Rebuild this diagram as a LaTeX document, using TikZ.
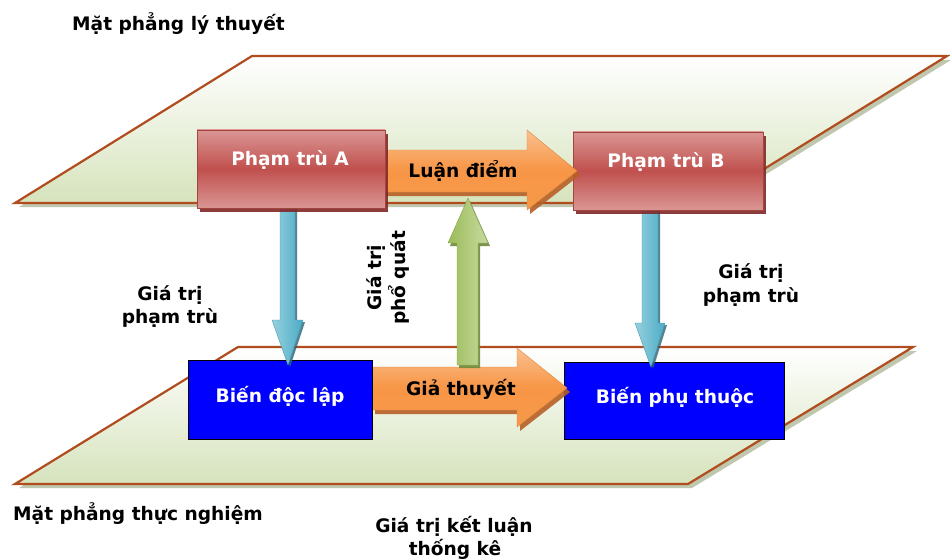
\documentclass[tikz,border=0pt]{standalone}
\usepackage{fontspec}
\setmainfont{DejaVu Sans}
\usetikzlibrary{shadows,calc}
\definecolor{planeline}{RGB}{176,76,30}
\definecolor{planefill}{RGB}{214,227,188}
\definecolor{planeshadow}{RGB}{165,178,140}
\definecolor{redmid}{RGB}{192,80,77}
\definecolor{redlight}{RGB}{218,150,148}
\definecolor{redshadow}{RGB}{128,40,38}
\definecolor{orangemid}{RGB}{247,150,70}
\definecolor{orangelight}{RGB}{250,192,144}
\definecolor{orangeshadow}{RGB}{182,96,38}
\definecolor{greenmid}{RGB}{155,187,89}
\definecolor{greenlight}{RGB}{200,218,160}
\definecolor{greenshadow}{RGB}{110,138,55}
\definecolor{tealmid}{RGB}{75,172,198}
\definecolor{teallight}{RGB}{150,208,222}
\definecolor{tealshadow}{RGB}{45,100,118}
\begin{document}
\begin{tikzpicture}[x=1pt,y=-1pt,
  font=\fontsize{18.6}{22}\selectfont\bfseries,
  plane/.style={draw=planeline, line width=2.2pt, line join=miter,
    top color=white, bottom color=planefill,
    drop shadow={shadow xshift=4pt, shadow yshift=-4pt, fill=planeshadow, opacity=0.7}},
  redbox/.style={draw=redmid!85!black, line width=0.6pt, inner sep=0pt,
    top color=redlight, bottom color=redlight, middle color=redmid,
    drop shadow={shadow xshift=3pt, shadow yshift=-4pt, fill=redshadow, opacity=0.9}},
  bluebox/.style={draw=black, line width=1pt, fill={rgb,255:red,0;green,0;blue,255}, inner sep=0pt},
  orangearrow/.style={draw=orangemid!90!black, line width=0.4pt,
    top color=orangelight, bottom color=orangemid!95!orangelight, middle color=orangemid,
    drop shadow={shadow xshift=3pt, shadow yshift=-4pt, fill=orangeshadow, opacity=0.9}},
  greenarrow/.style={draw=greenmid!90!black, line width=0.4pt,
    left color=greenmid, right color=greenlight,
    drop shadow={shadow xshift=2pt, shadow yshift=-3pt, fill=greenshadow, opacity=0.9}},
  tealarrow/.style={draw=tealmid!90!black, line width=0.4pt,
    left color=teallight, right color=tealmid,
    drop shadow={shadow xshift=2pt, shadow yshift=-2pt, fill=tealshadow, opacity=0.8}},
  wtext/.style={text=white, inner sep=0pt, anchor=base},
  btext/.style={text=black, inner sep=0pt, anchor=base}]
\useasboundingbox (0,0) rectangle (950,559);
\fill[white] (0,0) rectangle (950,559);

% planes
\path[plane] (238,347) -- (913,347) -- (688,484) -- (15,484) -- cycle;
\path[plane] (252,56) -- (947,56) -- (709,203) -- (15,203) -- cycle;

% lower boxes and hypothesis arrow
\node[bluebox, minimum width=220pt, minimum height=77pt] (bpt) at (674,400.5) {};
\path[orangearrow] (372,367) -- (517,367) -- (517,348) -- (567,388) -- (517,427) -- (517,410) -- (372,410) -- cycle;
\node[bluebox, minimum width=184pt, minimum height=79pt] (bdl) at (280,399.5) {};

% vertical arrows
\path[tealarrow] (280,205) -- (295,205) -- (295,320) -- (303,320) -- (288,365) -- (272,320) -- (280,320) -- cycle;
\path[tealarrow] (642,207) -- (658,207) -- (658,323) -- (665,323) -- (651,367) -- (635,323) -- (642,323) -- cycle;
\path[greenarrow] (457,365) -- (478,365) -- (478,243) -- (488,243) -- (468,198) -- (448,243) -- (457,243) -- cycle;

% upper boxes and thesis arrow
\node[redbox, minimum width=190pt, minimum height=78pt] (pB) at (668,171) {};
\path[orangearrow] (383,150) -- (527,150) -- (527,130) -- (577,171) -- (527,210) -- (527,192) -- (383,192) -- cycle;
\node[redbox, minimum width=188pt, minimum height=78pt] (pA) at (291,169) {};

% texts in boxes and arrows
\node[wtext] (tA) at (290,165) {Phạm trù A};
\node[wtext] (tB) at (666,167) {Phạm trù B};
\node[btext] (tLD) at (463,177) {Luận điểm};
\node[btext] (tGT) at (461,395) {Giả thuyết};
\node[wtext] (tDL) at (280,402) {Biến độc lập};
\node[wtext] (tPT) at (675,403) {Biến phụ thuộc};

% free labels
\node[btext, anchor=base west] (lLT) at (72,31) {Mặt phẳng lý thuyết};
\node[btext, anchor=base west] (lTN) at (13,520) {Mặt phẳng thực nghiệm};
\node[btext] (gL1) at (170,300) {Giá trị};
\node[btext] (gL2) at (170,323) {phạm trù};
\node[btext] (gR1) at (751,278) {Giá trị};
\node[btext] (gR2) at (751,302) {phạm trù};
\node[btext, rotate=90] (gP1) at (381,278) {Giá trị};
\node[btext, rotate=90] (gP2) at (405,278) {phổ quát};
\node[btext] (gK1) at (454,532) {Giá trị kết luận};
\node[btext] (gK2) at (455,555) {thống kê};
\end{tikzpicture}
\end{document}
